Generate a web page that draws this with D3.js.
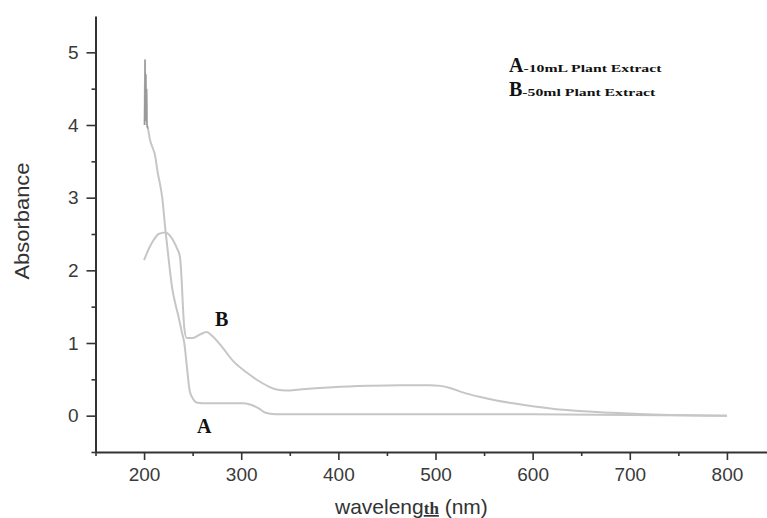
<!DOCTYPE html>
<meta charset="utf-8">
<style>
  body { margin: 0; background: #fff; }
  svg { display: block; }
</style>
<svg width="767" height="518"></svg>
<script src="https://d3js.org/d3.v7.min.js"></script>
<script>
// wavelength (nm), absorbance
var curveA = [
  [200.5, 4.0], [201, 4.9], [201.4, 4.05], [201.8, 4.7], [202.2, 4.1], [202.6, 4.5],
  [203, 4.0], [204, 3.95], [206, 3.8], [209, 3.68], [211, 3.6], [214, 3.35],
  [218.7, 3.0], [222, 2.55], [226.6, 2.0], [229, 1.75], [232, 1.55], [235, 1.39],
  [238.7, 1.16], [241.4, 1.0], [243.8, 0.71], [247, 0.34], [250, 0.24], [254, 0.18],
  [260, 0.17], [280, 0.17], [300, 0.17], [310, 0.15], [318, 0.1], [325, 0.04],
  [335, 0.02], [400, 0.02], [500, 0.02], [600, 0.02], [700, 0.01], [800, 0.0]
]
var curveB = [
  [200, 2.14], [205, 2.3], [210, 2.42], [215, 2.5], [222, 2.52], [227, 2.47],
  [230, 2.41], [234, 2.3], [237, 2.18], [238.7, 1.86], [240, 1.5], [241.4, 1.21],
  [243.8, 1.07], [250, 1.07], [258, 1.12], [264.4, 1.15], [270, 1.1], [280, 0.95],
  [291.8, 0.75], [305, 0.6], [319, 0.47], [330, 0.39], [336.4, 0.36], [346.7, 0.345],
  [360, 0.36], [394, 0.39], [430, 0.41], [463, 0.42], [494, 0.42], [505, 0.41],
  [515, 0.38], [528, 0.32], [545, 0.26], [562.8, 0.21], [580, 0.17], [600, 0.13],
  [631, 0.08], [682, 0.04], [716, 0.02], [800, 0.0]
]
var xTicks = [200, 300, 400, 500, 600, 700, 800]
var xMinor = [150, 250, 350, 450, 550, 650, 750]
var yTicks = [0, 1, 2, 3, 4, 5]
var yMinor = [-0.5, 0.5, 1.5, 2.5, 3.5, 4.5]
var legendRows = [["A", "-10mL Plant Extract"], ["B", "-50ml Plant Extract"]]

const svg = d3.select('svg')
const x = d3.scaleLinear().domain([150, 850]).range([95.5, 775.5])
const y = d3.scaleLinear().domain([-0.5, 5.5]).range([452, 16])

const axisColour = '#333'
const lineColour = '#c6c6c6'

// minor ticks first
svg.append('g')
  .attr('transform', 'translate(0,452)')
  .call(d3.axisBottom(x).tickValues(xMinor).tickSize(4).tickFormat(''))
  .call(g => g.select('.domain').remove())
svg.append('g')
  .attr('transform', 'translate(95.5,0)')
  .call(d3.axisLeft(y).tickValues(yMinor).tickSize(4).tickFormat(''))
  .call(g => g.select('.domain').remove())

const xAxis = svg.append('g')
  .attr('transform', 'translate(0,452)')
  .call(d3.axisBottom(x).tickValues(xTicks).tickSize(8).tickPadding(5).tickSizeOuter(0))
const yAxis = svg.append('g')
  .attr('transform', 'translate(95.5,0)')
  .call(d3.axisLeft(y).tickValues(yTicks).tickFormat(d3.format('d')).tickSize(9).tickPadding(8).tickSizeOuter(0))

svg.selectAll('.tick line').attr('stroke', axisColour).attr('stroke-width', 1.6)
svg.selectAll('.domain').attr('stroke', axisColour).attr('stroke-width', 2)
svg.selectAll('.tick text')
  .attr('fill', '#3a3a3a')
  .attr('font-family', 'Liberation Sans, Arial, sans-serif')
  .attr('font-size', 19)
xAxis.selectAll('.tick text').attr('dy', '0.85em')

const line = d3.line()
  .x(d => x(d[0]))
  .y(d => y(d[1]))
  .curve(d3.curveMonotoneX)

svg.append('path').datum(curveB)
  .attr('fill', 'none').attr('stroke', lineColour).attr('stroke-width', 2)
  .attr('d', line)
svg.append('path').datum(curveA)
  .attr('fill', 'none').attr('stroke', lineColour).attr('stroke-width', 2)
  .attr('d', line)
// noisy top of A is darker in the picture
svg.append('path').datum(curveA.filter(d => d[0] <= 204))
  .attr('fill', 'none').attr('stroke', '#9a9a9a').attr('stroke-width', 1.4)
  .attr('d', d3.line().x(d => x(d[0])).y(d => y(d[1])))

const serif = 'Liberation Serif, Times New Roman, serif'
svg.append('text').attr('x', 215).attr('y', 326)
  .attr('font-family', serif).attr('font-weight', 'bold').attr('font-size', 20)
  .attr('fill', '#111').text('B')
svg.append('text').attr('x', 197).attr('y', 433)
  .attr('font-family', serif).attr('font-weight', 'bold').attr('font-size', 20)
  .attr('fill', '#111').text('A')

const legend = svg.append('g')
legendRows.forEach((r, i) => {
  const t = legend.append('text').attr('x', 509).attr('y', 72 + i * 23.5)
    .attr('font-family', serif).attr('font-weight', 'bold').attr('fill', '#111')
  t.append('tspan').attr('font-size', 20).text(r[0])
  t.append('tspan').attr('font-size', 10).attr('textLength', i === 0 ? 138 : 133)
    .attr('lengthAdjust', 'spacingAndGlyphs').text(r[1])
})

svg.append('text')
  .attr('transform', 'translate(29,221) rotate(-90)')
  .attr('text-anchor', 'middle')
  .attr('font-family', 'Liberation Sans, Arial, sans-serif')
  .attr('font-size', 20).attr('fill', '#333')
  .attr('textLength', 117).attr('lengthAdjust', 'spacingAndGlyphs')
  .text('Absorbance')

const xt = svg.append('text')
  .attr('x', 335).attr('y', 514)
  .attr('font-family', 'Liberation Sans, Arial, sans-serif')
  .attr('font-size', 21).attr('fill', '#333')
xt.append('tspan').text('wavelength'.slice(0, 8))
xt.append('tspan').attr('font-family', serif).attr('font-weight', 'bold').attr('font-size', 17)
  .attr('text-decoration', 'underline').text('th')
xt.append('tspan').text(' (nm)')
</script>
